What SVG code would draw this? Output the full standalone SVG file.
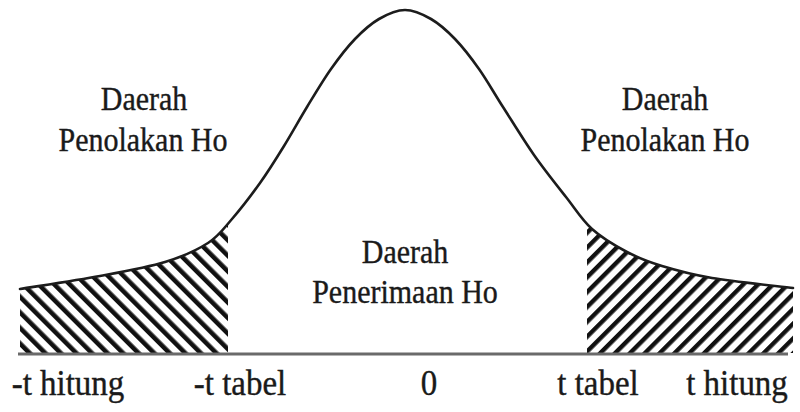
<svg xmlns="http://www.w3.org/2000/svg" width="800" height="412" viewBox="0 0 800 412">
  <style>
    .curve { fill: none; stroke: #1c1c1c; stroke-width: 2.6; stroke-linecap: round; }
    .axis { stroke: #6a6a6a; stroke-width: 3; }
    .lbl { font-family: "Liberation Serif", "Times New Roman", serif; font-size: 30px; fill: #1a1a1a; stroke: #1a1a1a; stroke-width: 0.35; text-anchor: middle; }
    .tick { font-family: "Liberation Serif", "Times New Roman", serif; font-size: 33px; fill: #1a1a1a; stroke: #1a1a1a; stroke-width: 0.35; text-anchor: middle; }
  </style>
  <defs>
    <path id="bell" d="M20,289 C33.3,286.8 75.8,280.5 100,276 C124.2,271.5 147,267.5 165,262 C183,256.5 196.8,250.2 208,243 C219.2,235.8 223.3,229 232,219 C240.7,209 251.3,195.2 260,183 C268.7,170.8 276.2,158.7 284,146 C291.8,133.3 299.2,119.8 307,107 C314.8,94.2 323,80.3 331,69 C339,57.7 347,47.3 355,39 C363,30.7 370.7,23.8 379,19 C387.3,14.2 396.3,10 405,10 C413.7,10 422.7,14.2 431,19 C439.3,23.8 447,30.7 455,39 C463,47.3 471,57.7 479,69 C487,80.3 493.8,92.7 503,107 C512.2,121.3 523.5,140 534,155 C544.5,170 556.3,184.7 566,197 C575.7,209.3 581.8,219.8 592,229 C602.2,238.2 615.3,245.8 627,252 C638.7,258.2 647.8,261.7 662,266 C676.2,270.3 690.2,274.3 712,278 C733.8,281.7 779.5,286.3 793,288"/>
    <clipPath id="under">
      <path d="M20,289 C33.3,286.8 75.8,280.5 100,276 C124.2,271.5 147,267.5 165,262 C183,256.5 196.8,250.2 208,243 C219.2,235.8 223.3,229 232,219 C240.7,209 251.3,195.2 260,183 C268.7,170.8 276.2,158.7 284,146 C291.8,133.3 299.2,119.8 307,107 C314.8,94.2 323,80.3 331,69 C339,57.7 347,47.3 355,39 C363,30.7 370.7,23.8 379,19 C387.3,14.2 396.3,10 405,10 C413.7,10 422.7,14.2 431,19 C439.3,23.8 447,30.7 455,39 C463,47.3 471,57.7 479,69 C487,80.3 493.8,92.7 503,107 C512.2,121.3 523.5,140 534,155 C544.5,170 556.3,184.7 566,197 C575.7,209.3 581.8,219.8 592,229 C602.2,238.2 615.3,245.8 627,252 C638.7,258.2 647.8,261.7 662,266 C676.2,270.3 690.2,274.3 712,278 C733.8,281.7 779.5,286.3 793,288 L793,353 L20,353 Z"/>
    </clipPath>
    <clipPath id="leftBand"><rect x="20" y="0" width="208" height="353"/></clipPath>
    <clipPath id="rightBand"><rect x="587" y="0" width="206" height="353"/></clipPath>
    <pattern id="hatchBack" width="11" height="11" patternUnits="userSpaceOnUse" patternTransform="rotate(-45)">
      <rect x="0" y="0" width="4.6" height="11" fill="#111"/>
    </pattern>
    <pattern id="hatchFwd" width="10.5" height="10.5" patternUnits="userSpaceOnUse" patternTransform="rotate(45)">
      <rect x="0" y="0" width="4.4" height="10.5" fill="#111"/>
    </pattern>
  </defs>
  <rect width="800" height="412" fill="#fff"/>

  <g id="left-rejection-area" clip-path="url(#leftBand)">
    <g clip-path="url(#under)">
      <rect x="20" y="180" width="210" height="175" fill="url(#hatchBack)"/>
    </g>
  </g>
  <g id="right-rejection-area" clip-path="url(#rightBand)">
    <g clip-path="url(#under)">
      <rect x="585" y="200" width="210" height="155" fill="url(#hatchFwd)"/>
    </g>
  </g>

  <g id="connectors">
    <use href="#bell" class="curve"/>
    <line class="axis" x1="18" y1="354" x2="788" y2="354"/>
  </g>

  <g id="label-left">
    <text class="lbl" transform="translate(144,110) scale(1,1.1)">Daerah</text>
    <text class="lbl" transform="translate(143,151) scale(1,1.1)">Penolakan Ho</text>
  </g>
  <g id="label-right">
    <text class="lbl" transform="translate(665,110) scale(1,1.1)">Daerah</text>
    <text class="lbl" transform="translate(665,151) scale(1,1.1)">Penolakan Ho</text>
  </g>
  <g id="label-center">
    <text class="lbl" transform="translate(405,263) scale(1,1.1)">Daerah</text>
    <text class="lbl" transform="translate(405,303) scale(1,1.1)">Penerimaan Ho</text>
  </g>
  <g id="axis-labels">
    <text class="tick" transform="translate(68,395) scale(1,1.1)">-t hitung</text>
    <text class="tick" transform="translate(240,395) scale(1,1.1)">-t tabel</text>
    <text class="tick" transform="translate(429,395) scale(1,1.1)">0</text>
    <text class="tick" transform="translate(598,395) scale(1,1.1)">t tabel</text>
    <text class="tick" transform="translate(737,395) scale(1,1.1)">t hitung</text>
  </g>
</svg>
